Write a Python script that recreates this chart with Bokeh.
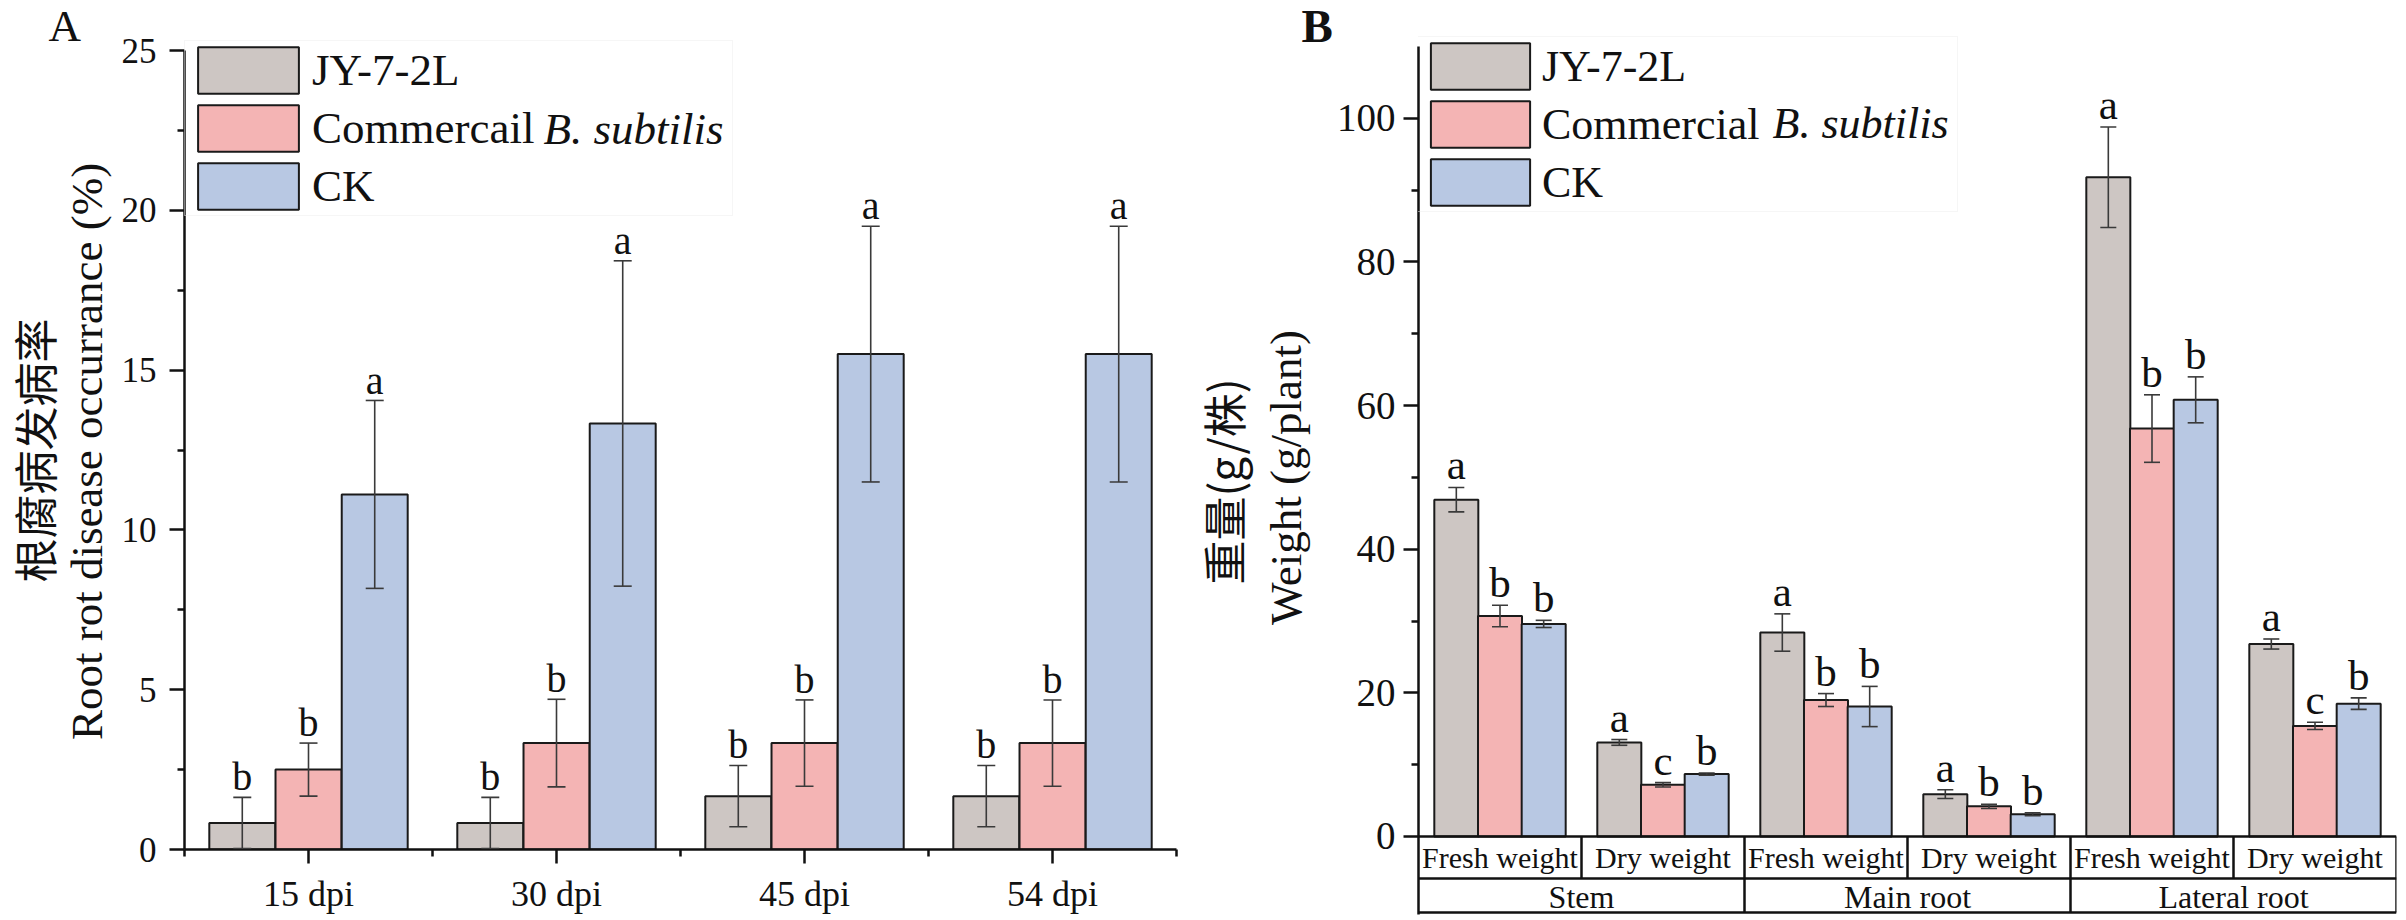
import math
from bokeh.plotting import figure
from bokeh.models import (Range1d, FixedTicker, Legend, LegendItem, Label, Whisker,
                          TeeHead, ColumnDataSource)
from bokeh.layouts import row
from bokeh.embed import file_html
from bokeh.resources import INLINE
from bokeh.core.properties import value

SERIF = "Liberation Serif"
CJK = "Noto Sans CJK SC"
INK = "#111111"

# ---------------- data ----------------
colors = ["#cdc6c3", "#f4b4b4", "#b8c8e3"]

# Panel A: root rot disease occurrence (%)
a_days = ["15 dpi", "30 dpi", "45 dpi", "54 dpi"]
a_series = ["JY-7-2L", "Commercail", "CK"]
a_jy = [0.83, 0.83, 1.67, 1.67]
a_jy_err = [0.80, 0.80, 0.96, 0.96]
a_cb = [2.50, 3.33, 3.33, 3.33]
a_cb_err = [0.83, 1.37, 1.35, 1.35]
a_ck = [11.11, 13.33, 15.50, 15.50]
a_ck_err = [2.94, 5.09, 4.00, 4.00]
a_jy_sig = ["b", "b", "b", "b"]
a_cb_sig = ["b", "b", "b", "b"]
a_ck_sig = ["a", "a", "a", "a"]
a_ylabel = "Root rot disease occurrance (%)"
a_ylabel_cn = "根腐病发病率"

# Panel B: weight (g/plant)
b_parts = ["Stem", "Main root", "Lateral root"]
b_measures = ["Fresh weight", "Dry weight", "Fresh weight", "Dry weight", "Fresh weight", "Dry weight"]
b_series = ["JY-7-2L", "Commercial", "CK"]
b_jy = [46.9, 13.1, 28.4, 5.9, 91.8, 26.8]
b_jy_err = [1.7, 0.4, 2.6, 0.6, 7.0, 0.7]
b_cb = [30.7, 7.2, 19.0, 4.2, 56.8, 15.4]
b_cb_err = [1.5, 0.3, 0.9, 0.3, 4.7, 0.5]
b_ck = [29.6, 8.7, 18.1, 3.1, 60.8, 18.5]
b_ck_err = [0.5, 0.15, 2.8, 0.2, 3.2, 0.8]
b_jy_sig = ["a", "a", "a", "a", "a", "a"]
b_cb_sig = ["b", "c", "b", "b", "b", "c"]
b_ck_sig = ["b", "b", "b", "b", "b", "b"]
b_ylabel = "Weight (g/plant)"
b_ylabel_cn = "重量(g/株)"

H = 916


def style_common(p):
    p.xgrid.visible = False
    p.ygrid.visible = False
    p.outline_line_color = None
    p.background_fill_color = "white"
    p.border_fill_color = "white"


def style_axis(ax, tick_font, standoff):
    ax.axis_line_width = 2.5
    ax.axis_line_color = INK
    ax.major_tick_line_width = 2.5
    ax.minor_tick_line_width = 2.5
    ax.major_tick_line_color = INK
    ax.minor_tick_line_color = INK
    ax.major_tick_in = 0
    ax.minor_tick_in = 0
    ax.major_label_text_font = SERIF
    ax.major_label_text_font_size = tick_font
    ax.major_label_text_color = INK
    ax.major_label_standoff = standoff


def add_bars(p, n, series_vals, series_errs, series_sigs, width, offset, cap, letter_size, gap):
    renderers = []
    for k in range(3):
        xs = [i + 0.5 + (k - 1) * offset for i in range(n)]
        vals = series_vals[k]
        errs = series_errs[k]
        src = ColumnDataSource(dict(
            x=xs, top=vals,
            upper=[v + e for v, e in zip(vals, errs)],
            lower=[v - e for v, e in zip(vals, errs)],
            ly=[v + e + gap for v, e in zip(vals, errs)],
            sig=series_sigs[k]))
        r = p.vbar(x="x", top="top", bottom=0, width=width, source=src,
                   fill_color=colors[k], line_color="#1a1a1a", line_width=2)
        renderers.append(r)
        w = Whisker(source=src, base="x", upper="upper", lower="lower",
                    dimension="height", line_color="#3a3a3a", line_width=1.6,
                    upper_head=TeeHead(size=cap, line_color="#3a3a3a", line_width=1.6),
                    lower_head=TeeHead(size=cap, line_color="#3a3a3a", line_width=1.6),
                    level="annotation")
        p.add_layout(w)
        p.text(x="x", y="ly", text="sig", source=src, text_font=value(SERIF),
               text_font_size=letter_size, text_align="center",
               text_baseline="middle", text_color=INK)
    return renderers


def helper(x0, x1):
    h = figure(width=x1 - x0, height=H, x_range=Range1d(x0, x1), y_range=Range1d(H, 0),
               output_backend="svg", toolbar_location=None,
               x_axis_location=None, y_axis_location=None,
               min_border_left=0, min_border_right=0, min_border_top=0, min_border_bottom=0)
    style_common(h)
    h.frame_align = False
    return h


# ---------------- helper strip left of panel A (axis titles, panel letter) ----------------
hA = helper(0, 118)
hA.text(x=[33], y=[450], text=[a_ylabel_cn], angle=math.pi / 2, text_font=value(CJK),
        text_font_size="44px", text_align="center", text_baseline="middle", text_color=INK)
hA.text(x=[86], y=[451], text=[a_ylabel], angle=math.pi / 2, text_font=value(SERIF),
        text_font_size="45px", text_align="center", text_baseline="middle", text_color=INK)
hA.text(x=[48], y=[25], text=["A"], text_font=value(SERIF), text_font_size="45px",
        text_align="left", text_baseline="middle", text_color=INK)

# ---------------- Panel A ----------------
a_top = 25.0
pA = figure(width=1072, height=H, x_range=Range1d(0, 4), y_range=Range1d(0, a_top + 10 / 31.96),
            output_backend="svg", toolbar_location=None,
            min_border_left=64, min_border_right=14, min_border_top=40, min_border_bottom=67)
style_common(pA)
pA.frame_align = False

rA = add_bars(pA, len(a_days), [a_jy, a_cb, a_ck], [a_jy_err, a_cb_err, a_ck_err],
              [a_jy_sig, a_cb_sig, a_ck_sig], width=0.266, offset=0.267, cap=18,
              letter_size="40px", gap=0.64)

pA.yaxis.ticker = FixedTicker(ticks=[0, 5, 10, 15, 20, 25],
                              minor_ticks=[2.5, 7.5, 12.5, 17.5, 22.5])
pA.xaxis.ticker = FixedTicker(ticks=[i + 0.5 for i in range(len(a_days))],
                              minor_ticks=list(range(len(a_days) + 1)))
pA.xaxis.major_label_overrides = {i + 0.5: d for i, d in enumerate(a_days)}
for ax in pA.yaxis:
    style_axis(ax, "35px", 13)
    ax.major_tick_out = 15
    ax.minor_tick_out = 7
    ax.bounds = (0, a_top)
for ax in pA.xaxis:
    style_axis(ax, "36px", 10)
    ax.major_tick_out = 14
    ax.minor_tick_out = 7

legA = Legend(items=[LegendItem(label=a_series[k], renderers=[rA[k]]) for k in range(3)],
              location=(0, 633), glyph_width=126, glyph_height=58, spacing=0,
              padding=0, margin=0, label_standoff=1, label_width=420,
              label_text_font=SERIF, label_text_font_size="45px", label_text_color=INK,
              border_line_color="#eeeeee", border_line_width=1,
              background_fill_color="white", background_fill_alpha=0.0)
pA.add_layout(legA)
pA.add_layout(Label(x=359, y=721, x_units="screen", y_units="screen", text="B. subtilis",
                    text_font=SERIF, text_font_style="italic", text_font_size="45px",
                    text_baseline="middle", text_color=INK, level="overlay"))

# ---------------- helper strip left of panel B ----------------
hB = helper(1190, 1333)
hB.text(x=[1222], y=[481], text=[b_ylabel_cn], angle=math.pi / 2, text_font=value(CJK),
        text_font_size="44px", text_align="center", text_baseline="middle", text_color=INK)
hB.text(x=[1285], y=[477], text=[b_ylabel], angle=math.pi / 2, text_font=value(SERIF),
        text_font_size="45px", text_align="center", text_baseline="middle", text_color=INK)
hB.text(x=[1301], y=[25], text=["B"], text_font=value(SERIF), text_font_size="47px",
        text_font_style="bold", text_align="left", text_baseline="middle", text_color=INK)

# ---------------- Panel B ----------------
row1_y = -5.85
table_bottom = -10.58
b_bottom = -10.861
b_top = 110.0
pB = figure(width=1071, height=H, x_range=Range1d(0, 6),
            y_range=Range1d(b_bottom, b_top + 10 / 7.1818),
            output_backend="svg", toolbar_location=None, x_axis_location=None,
            min_border_left=82, min_border_right=8, min_border_top=36, min_border_bottom=2)
style_common(pB)
pB.frame_align = False

rB = add_bars(pB, len(b_measures), [b_jy, b_cb, b_ck], [b_jy_err, b_cb_err, b_ck_err],
              [b_jy_sig, b_cb_sig, b_ck_sig], width=0.27, offset=0.268, cap=16,
              letter_size="43px", gap=3.13)

pB.yaxis.ticker = FixedTicker(ticks=[0, 20, 40, 60, 80, 100], minor_ticks=[10, 30, 50, 70, 90])
for ax in pB.yaxis:
    style_axis(ax, "39px", 8)
    ax.major_tick_out = 15
    ax.minor_tick_out = 7
    ax.bounds = (b_bottom, b_top)

# category table under the bars
n_b = len(b_measures)
hy = [0, row1_y, table_bottom]
pB.segment(x0=[0] * 3, y0=hy, x1=[n_b] * 3, y1=hy, line_color=INK, line_width=2.5)
vx_short = [i for i in range(1, n_b) if i % 2 == 1]
vx_long = [i for i in range(2, n_b + 1) if i % 2 == 0]
pB.segment(x0=vx_short, y0=[0] * len(vx_short), x1=vx_short, y1=[row1_y] * len(vx_short),
           line_color=INK, line_width=2.5)
pB.segment(x0=vx_long, y0=[0] * len(vx_long), x1=vx_long, y1=[table_bottom] * len(vx_long),
           line_color=INK, line_width=2.5)
pB.text(x=[i + 0.5 for i in range(n_b)], y=[row1_y / 2] * n_b, text=b_measures,
        text_font=value(SERIF), text_font_size="30px", text_align="center",
        text_baseline="middle", text_color=INK)
pB.text(x=[2 * j + 1 for j in range(len(b_parts))], y=[-8.45] * len(b_parts), text=b_parts,
        text_font=value(SERIF), text_font_size="32px", text_align="center",
        text_baseline="middle", text_color=INK)

legB = Legend(items=[LegendItem(label=b_series[k], renderers=[rB[k]]) for k in range(3)],
              location=(-1, 702), glyph_width=124, glyph_height=58, spacing=0,
              padding=0, margin=0, label_standoff=0, label_width=415,
              label_text_font=SERIF, label_text_font_size="44px", label_text_color=INK,
              border_line_color="#eeeeee", border_line_width=1,
              background_fill_color="white", background_fill_alpha=0.0)
pB.add_layout(legB)
pB.add_layout(Label(x=354, y=791, x_units="screen", y_units="screen", text="B. subtilis",
                    text_font=SERIF, text_font_style="italic", text_font_size="44px",
                    text_baseline="middle", text_color=INK, level="overlay"))

layout = row(hA, pA, hB, pB)
open("out.html", "w").write(file_html(layout, INLINE))
